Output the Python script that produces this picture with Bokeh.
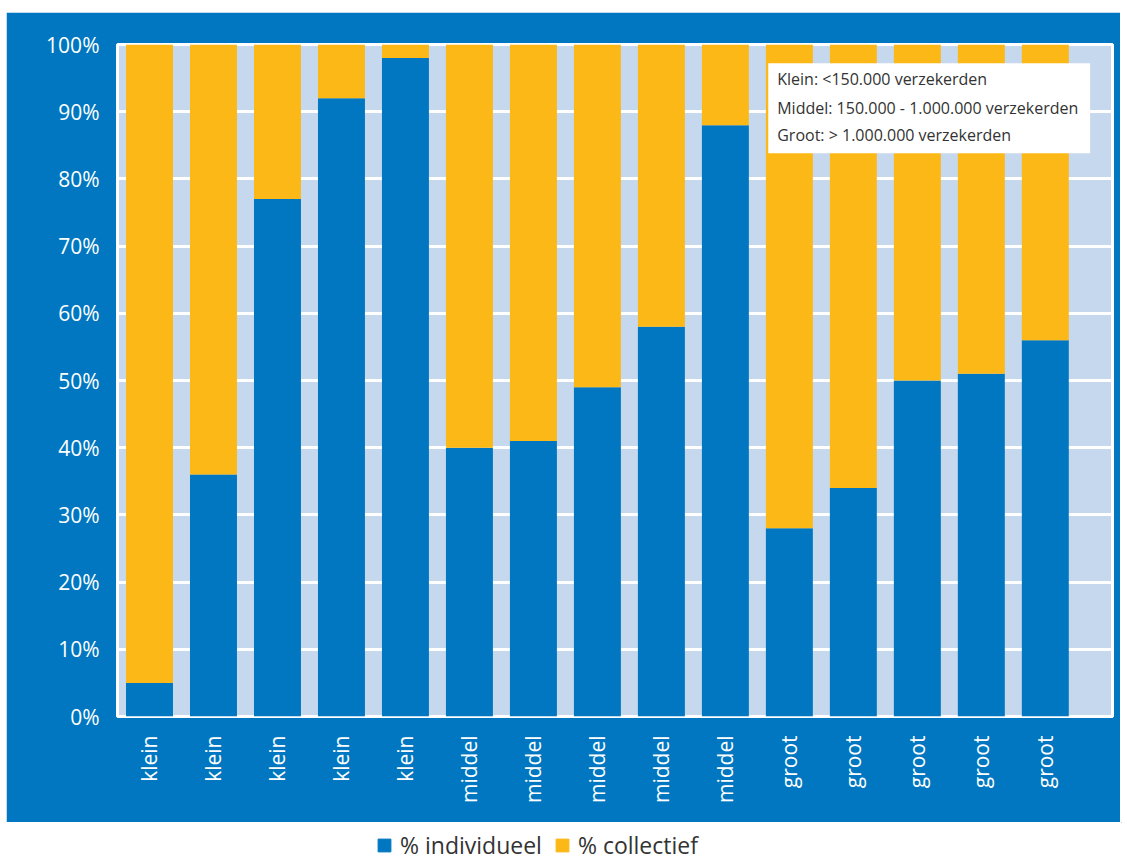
from math import pi

from bokeh.embed import file_html
from bokeh.layouts import column
from bokeh.models import (BoxAnnotation, ColumnDataSource, FixedTicker, Label,
                          Legend, LegendItem, Range1d)
from bokeh.plotting import figure
from bokeh.resources import INLINE

# Share of individual vs. collective policies per insurer, grouped by size
categories = ["klein", "klein", "klein", "klein", "klein",
              "middel", "middel", "middel", "middel", "middel",
              "groot", "groot", "groot", "groot", "groot"]
individueel = [5, 36, 77, 92, 98, 40, 41, 49, 58, 88, 28, 34, 50, 51, 56]
collectief = [95, 64, 23, 8, 2, 60, 59, 51, 42, 12, 72, 66, 50, 49, 44]
y_ticks = [0, 10, 20, 30, 40, 50, 60, 70, 80, 90, 100]
size_notes = ["Klein: <150.000 verzekerden",
              "Middel: 150.000 - 1.000.000 verzekerden",
              "Groot: > 1.000.000 verzekerden"]
series_names = ["% individueel", "% collectief"]

BLUE = "#0077C0"
YELLOW = "#FBB817"
PANEL = "#C6D8EE"
FONT = "Open Sans"

idx = list(range(len(categories)))
source = ColumnDataSource(dict(x=idx, ind=individueel, col=collectief))

p = figure(width=1114, height=810, output_backend="svg", toolbar_location=None,
           x_range=Range1d(-0.5, 15.05), y_range=Range1d(0, 100),
           min_border_left=111, min_border_right=8, min_border_top=32,
           min_border_bottom=106, margin=(12, 0, 0, 6))
p.border_fill_color = BLUE
p.background_fill_color = PANEL
p.outline_line_color = "white"
p.outline_line_width = 3

p.vbar_stack(["ind", "col"], x="x", width=0.734, source=source,
             color=[BLUE, YELLOW], line_color=None)

# y axis: percentages
p.yaxis.ticker = FixedTicker(ticks=y_ticks)
p.yaxis.major_label_overrides = {t: f"{t}%" for t in y_ticks}
p.yaxis.axis_line_color = None
p.yaxis.major_tick_line_color = None
p.yaxis.minor_tick_line_color = None
p.yaxis.major_label_text_color = "white"
p.yaxis.major_label_text_font = FONT
p.yaxis.major_label_text_font_size = "21px"
p.yaxis.major_label_standoff = 12

# x axis: size class of each insurer
p.xaxis.ticker = FixedTicker(ticks=idx)
p.xaxis.major_label_overrides = {i: c for i, c in zip(idx, categories)}
p.xaxis.major_label_orientation = pi / 2
p.xaxis.axis_line_color = None
p.xaxis.major_tick_line_color = None
p.xaxis.minor_tick_line_color = None
p.xaxis.major_label_text_color = "white"
p.xaxis.major_label_text_font = FONT
p.xaxis.major_label_text_font_size = "21px"
p.xaxis.major_label_standoff = 13

p.xgrid.grid_line_color = None
p.ygrid.grid_line_color = "white"
p.ygrid.grid_line_width = 3

# explanation of the size classes
p.add_layout(BoxAnnotation(left=9.67, right=14.70, bottom=83.8, top=97.2,
                           fill_color="white", fill_alpha=1.0, line_color=None))
for note, yv in zip(size_notes, [94.8, 90.6, 86.5]):
    p.add_layout(Label(x=9.81, y=yv, text=note, text_font=FONT,
                       text_font_size="16px", text_color="#333333",
                       text_baseline="middle"))

# legend strip below the chart (swatch renderers sit outside the visible range)
leg = figure(width=1129, height=39, output_backend="svg", toolbar_location=None,
             x_range=Range1d(0, 1), y_range=Range1d(0, 1),
             min_border=0, outline_line_color=None)
leg.axis.visible = False
leg.grid.visible = False
r_ind = leg.vbar(x=[5], top=[5], bottom=[4], width=1, color=BLUE)
r_col = leg.vbar(x=[5], top=[5], bottom=[4], width=1, color=YELLOW)
legend = Legend(items=[LegendItem(label=series_names[0], renderers=[r_ind]),
                       LegendItem(label=series_names[1], renderers=[r_col])],
                orientation="horizontal", location=(265, 0),
                glyph_width=16, glyph_height=16, label_height=31,
                label_standoff=8, spacing=12, padding=0, margin=0,
                label_text_font=FONT, label_text_font_size="23px",
                label_text_color="#333333", border_line_color=None,
                background_fill_alpha=0)
leg.add_layout(legend)

layout = column(p, leg, spacing=0)
open("out.html", "w").write(file_html(layout, INLINE))
